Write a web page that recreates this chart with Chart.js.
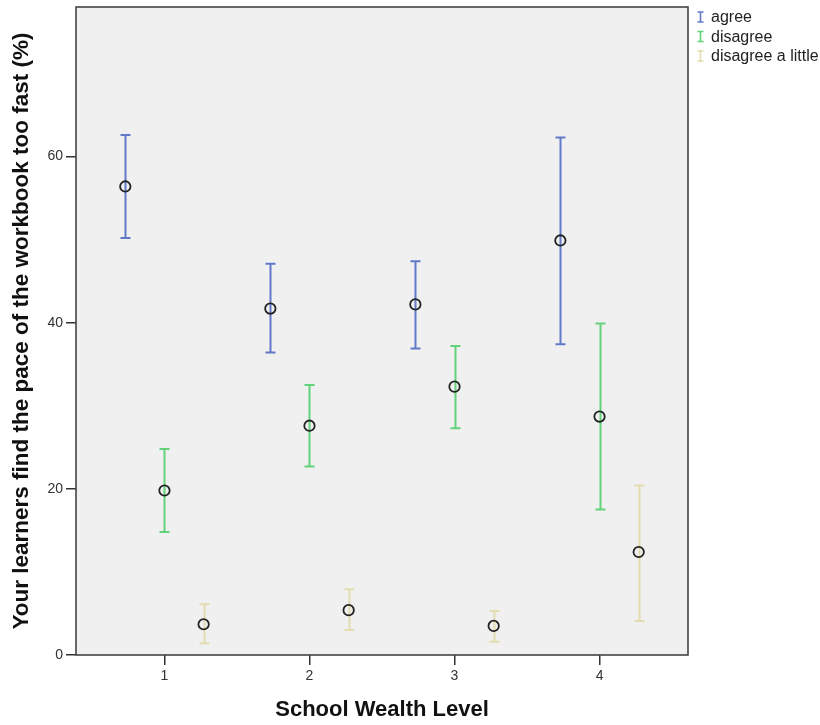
<!DOCTYPE html>
<html>
<head>
<meta charset="utf-8">
<script src="https://cdn.jsdelivr.net/npm/chart.js@4"></script>
<style>
  html, body { margin: 0; padding: 0; background: #ffffff; }
  canvas { display: block; }
</style>
</head>
<body>
<canvas id="c" width="820" height="725"></canvas>
<script>
// School wealth levels on the x axis
const wealthLevels = [1, 2, 3, 4];

// Mean percentage and 95% CI bounds per response category
const agreeMean  = [56.4, 41.7, 42.2, 49.9];
const agreeLow   = [50.2, 36.4, 36.9, 37.4];
const agreeHigh  = [62.6, 47.1, 47.4, 62.3];

const disagreeMean = [19.8, 27.6, 32.3, 28.7];
const disagreeLow  = [14.8, 22.7, 27.3, 17.5];
const disagreeHigh = [24.8, 32.5, 37.2, 39.9];

const littleMean = [3.7, 5.4, 3.5, 12.4];
const littleLow  = [1.4, 3.0, 1.6, 4.1];
const littleHigh = [6.1, 7.9, 5.3, 20.4];

const yTicks = [0, 20, 40, 60];
const seriesNames = ['agree', 'disagree', 'disagree a little'];

const barColors = ['#6279c9', '#62d27b', '#e2dcae'];
const offsets = [-0.27, 0, 0.27];
const FONT = '"Liberation Sans", Arial, sans-serif';

const groups = [
  { mean: agreeMean, low: agreeLow, high: agreeHigh },
  { mean: disagreeMean, low: disagreeLow, high: disagreeHigh },
  { mean: littleMean, low: littleLow, high: littleHigh }
];

const datasets = groups.map((g, si) => ({
  label: seriesNames[si],
  data: wealthLevels.map((lvl, i) => ({ x: lvl + offsets[si], y: g.mean[i], lo: g.low[i], hi: g.high[i] })),
  pointRadius: 5.2,
  pointHoverRadius: 5.2,
  pointBorderWidth: 1.8,
  pointBorderColor: '#222222',
  pointBackgroundColor: 'rgba(0,0,0,0)',
  barColor: barColors[si],
  showLine: false
}));

// Plot background and frame
const frame = {
  id: 'frame',
  beforeDraw(chart) {
    const { ctx, chartArea: a } = chart;
    ctx.save();
    ctx.fillStyle = '#f0f0f0';
    ctx.fillRect(a.left, a.top, a.right - a.left, a.bottom - a.top);
    ctx.restore();
  },
  afterDraw(chart) {
    const { ctx, chartArea: a } = chart;
    ctx.save();
    ctx.strokeStyle = '#444444';
    ctx.lineWidth = 1.6;
    ctx.strokeRect(a.left, a.top, a.right - a.left, a.bottom - a.top);
    ctx.restore();
  }
};

// Vertical confidence-interval bars with caps
const errorBars = {
  id: 'errorBars',
  beforeDatasetsDraw(chart) {
    const { ctx, scales: { x, y } } = chart;
    ctx.save();
    chart.data.datasets.forEach(ds => {
      ctx.strokeStyle = ds.barColor;
      ctx.lineWidth = 2;
      ds.data.forEach(p => {
        const px = Math.round(x.getPixelForValue(p.x)) + 0.5;
        const yl = y.getPixelForValue(p.lo);
        const yh = y.getPixelForValue(p.hi);
        ctx.beginPath();
        ctx.moveTo(px, yl); ctx.lineTo(px, yh);
        ctx.moveTo(px - 5, yh); ctx.lineTo(px + 5, yh);
        ctx.moveTo(px - 5, yl); ctx.lineTo(px + 5, yl);
        ctx.stroke();
      });
    });
    ctx.restore();
  }
};

// Legend with I-beam glyphs on the right
const sideLegend = {
  id: 'sideLegend',
  afterDraw(chart) {
    const { ctx, chartArea: a } = chart;
    ctx.save();
    ctx.font = '16px ' + FONT;
    ctx.textBaseline = 'middle';
    chart.data.datasets.forEach((ds, i) => {
      const cy = 17 + i * 19.5;
      const ix = a.right + 12.5;
      ctx.strokeStyle = ds.barColor;
      ctx.lineWidth = 1.6;
      ctx.beginPath();
      ctx.moveTo(ix, cy - 5); ctx.lineTo(ix, cy + 5);
      ctx.moveTo(ix - 3, cy - 5); ctx.lineTo(ix + 3, cy - 5);
      ctx.moveTo(ix - 3, cy + 5); ctx.lineTo(ix + 3, cy + 5);
      ctx.stroke();
      ctx.fillStyle = '#222222';
      ctx.fillText(ds.label, a.right + 23, cy + 1);
    });
    ctx.restore();
  }
};

new Chart(document.getElementById('c'), {
  type: 'scatter',
  data: { datasets },
  options: {
    responsive: false,
    animation: false,
    layout: { padding: { top: 4, right: 132, left: 0, bottom: 0 } },
    plugins: { legend: { display: false }, tooltip: { enabled: false } },
    scales: {
      x: {
        type: 'linear',
        min: 0.39, max: 4.61,
        afterBuildTicks(s) { s.ticks = wealthLevels.map(v => ({ value: v })); },
        afterFit(s) { s.height = 70; s.paddingLeft = 0; s.paddingRight = 0; },
        grid: { drawOnChartArea: false, drawTicks: true, tickLength: 10, color: '#333333', lineWidth: 1.5 },
        border: { display: false },
        ticks: { color: '#333333', font: { size: 14, family: FONT }, padding: 3 },
        title: {
          display: true, text: 'School Wealth Level', color: '#111111',
          font: { size: 22, weight: 'bold', family: FONT },
          padding: { top: 4, bottom: 2 }
        }
      },
      y: {
        min: 0, max: 78,
        afterBuildTicks(s) { s.ticks = yTicks.map(v => ({ value: v })); },
        afterFit(s) { s.width = 76; s.paddingTop = 0; s.paddingBottom = 0; },
        grid: { drawOnChartArea: false, drawTicks: true, tickLength: 10, color: '#333333', lineWidth: 1.5 },
        border: { display: false },
        ticks: { color: '#333333', font: { size: 14, family: FONT }, padding: 3 },
        title: {
          display: true, text: 'Your learners find the pace of the workbook too fast (%)', color: '#111111',
          font: { size: 22.5, weight: 'bold', family: FONT },
          padding: { top: 8, bottom: 0 }
        }
      }
    }
  },
  plugins: [frame, errorBars, sideLegend]
});
</script>
</body>
</html>
